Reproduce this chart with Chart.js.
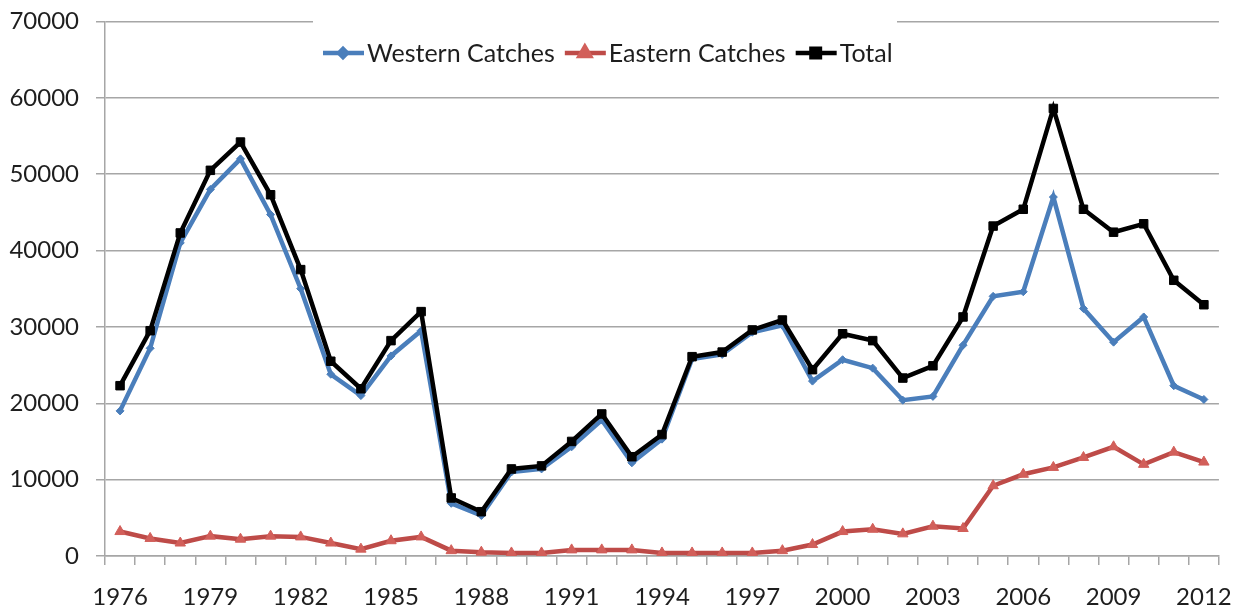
<!DOCTYPE html>
<html>
<head>
<meta charset="utf-8">
<script src="https://cdn.jsdelivr.net/npm/chart.js@4.4.1/dist/chart.umd.min.js"></script>
<style>
  body { margin: 0; background: #fff; }
  #wrap { width: 1250px; height: 614px; overflow: hidden; }
  #chart { display: block; margin-top: -10px; }
</style>
</head>
<body>
<div id="wrap"><canvas id="chart" width="1250" height="624"></canvas></div>
<script>
// data
var years = [];
for (var y = 1976; y <= 2012; y++) years.push(String(y));

var western = [19000, 27200, 41000, 48000, 52000, 44700, 35000, 23800, 21000, 26200,
    29500, 6900, 5300, 11000, 11400, 14300, 17800, 12200, 15300, 25800,
    26400, 29300, 30200, 22900, 25700, 24600, 20400, 20900, 27600, 34000,
    34600, 47000, 32400, 28000, 31300, 22300, 20500];
var eastern = [3200, 2300, 1700, 2600, 2200, 2600, 2500, 1700, 900, 2000,
    2500, 700, 500, 400, 400, 800, 800, 800, 400, 400,
    400, 400, 700, 1500, 3200, 3500, 2900, 3900, 3600, 9200,
    10700, 11600, 12900, 14300, 12000, 13600, 12300];
var total = [22300, 29500, 42300, 50500, 54200, 47300, 37500, 25500, 21900, 28200,
    32000, 7600, 5800, 11400, 11800, 15000, 18600, 13000, 15900, 26100,
    26700, 29600, 30900, 24400, 29100, 28200, 23300, 24900, 31300, 43200,
    45400, 58600, 45400, 42400, 43500, 36100, 32900];
var yTicks = [0, 10000, 20000, 30000, 40000, 50000, 60000, 70000];

var fontFam = "Lato, 'Open Sans', sans-serif";
var textCol = '#1e1e1e';
var gridCol = '#a6a6a6';

// legend drawn inside the plot, over the top gridline (canvas is shifted up 10px)
var legendBox = {
    id: 'legendBox',
    afterDraw: function (chart) {
        var ctx = chart.ctx;
        ctx.save();
        ctx.fillStyle = '#fff';
        ctx.fillRect(313, 18, 584, 80);
        ctx.font = '25px ' + fontFam;
        ctx.textBaseline = 'middle';
        var x = 323, yy = 63;
        chart.data.datasets.forEach(function (ds, i) {
            ctx.strokeStyle = ds.borderColor;
            ctx.lineWidth = 4.5;
            ctx.beginPath();
            ctx.moveTo(x, yy);
            ctx.lineTo(x + 41, yy);
            ctx.stroke();
            ctx.fillStyle = ds.pointBackgroundColor;
            ctx.strokeStyle = ds.pointBorderColor;
            Chart.helpers.drawPoint(ctx, {
                pointStyle: ds.pointStyle,
                radius: ds.pointRadius,
                borderWidth: ds.pointBorderWidth
            }, x + 20, yy);
            ctx.fillStyle = textCol;
            ctx.fillText(ds.label, x + 44, yy + 1);
            x += 44 + ctx.measureText(ds.label).width + 10;
        });
        ctx.restore();
    }
};

const chrt = document.getElementById('chart');
const lineChart = new Chart(chrt, {
    type: 'line',
    data: {
        labels: years,
        datasets: [
            {
                label: 'Western Catches',
                data: western,
                borderColor: '#4a7ebb',
                backgroundColor: '#4a7ebb',
                pointBackgroundColor: '#4a7ebb',
                pointBorderColor: '#4a7ebb',
                pointStyle: 'rectRot',
                pointRadius: 4,
                pointBorderWidth: 1,
                borderWidth: 4.5,
                order: 2
            },
            {
                label: 'Eastern Catches',
                data: eastern,
                borderColor: '#be4b48',
                backgroundColor: '#be4b48',
                pointBackgroundColor: '#d25f5a',
                pointBorderColor: '#d25f5a',
                pointStyle: 'triangle',
                pointRadius: 6,
                pointBorderWidth: 1,
                borderWidth: 4.5,
                order: 3
            },
            {
                label: 'Total',
                data: total,
                borderColor: '#000',
                backgroundColor: '#000',
                pointBackgroundColor: '#000',
                pointBorderColor: '#000',
                pointStyle: 'rect',
                pointRadius: 6,
                pointBorderWidth: 1,
                borderWidth: 4.5,
                order: 1
            }
        ]
    },
    options: {
        responsive: false,
        animation: false,
        layout: { padding: { top: 0, right: 20, left: 0, bottom: 0 } },
        plugins: {
            legend: { display: false },
            tooltip: { enabled: false }
        },
        elements: { line: { tension: 0 } },
        scales: {
            x: {
                type: 'category',
                offset: true,
                grid: {
                    offset: true,
                    drawOnChartArea: false,
                    drawTicks: true,
                    tickLength: 9,
                    color: gridCol,
                    lineWidth: 1.5
                },
                border: { color: gridCol, width: 1.5 },
                ticks: {
                    autoSkip: false,
                    maxRotation: 0,
                    padding: 18,
                    color: textCol,
                    font: { family: fontFam, size: 24 },
                    callback: function (val, idx) {
                        return idx % 3 === 0 ? this.getLabelForValue(val) : '';
                    }
                },
                afterFit: function (s) { s.height = 58; }
            },
            y: {
                min: 0,
                max: 70000,
                afterBuildTicks: function (s) {
                    s.ticks = yTicks.map(function (v) { return { value: v }; });
                },
                grid: {
                    color: gridCol,
                    lineWidth: 1.5,
                    tickLength: 9
                },
                border: { color: gridCol, width: 1.5 },
                ticks: {
                    padding: 17,
                    color: textCol,
                    font: { family: fontFam, size: 24 },
                    callback: function (v) { return String(v); }
                },
                afterFit: function (s) { s.width = 105; }
            }
        }
    },
    plugins: [legendBox]
});
</script>
</body>
</html>
